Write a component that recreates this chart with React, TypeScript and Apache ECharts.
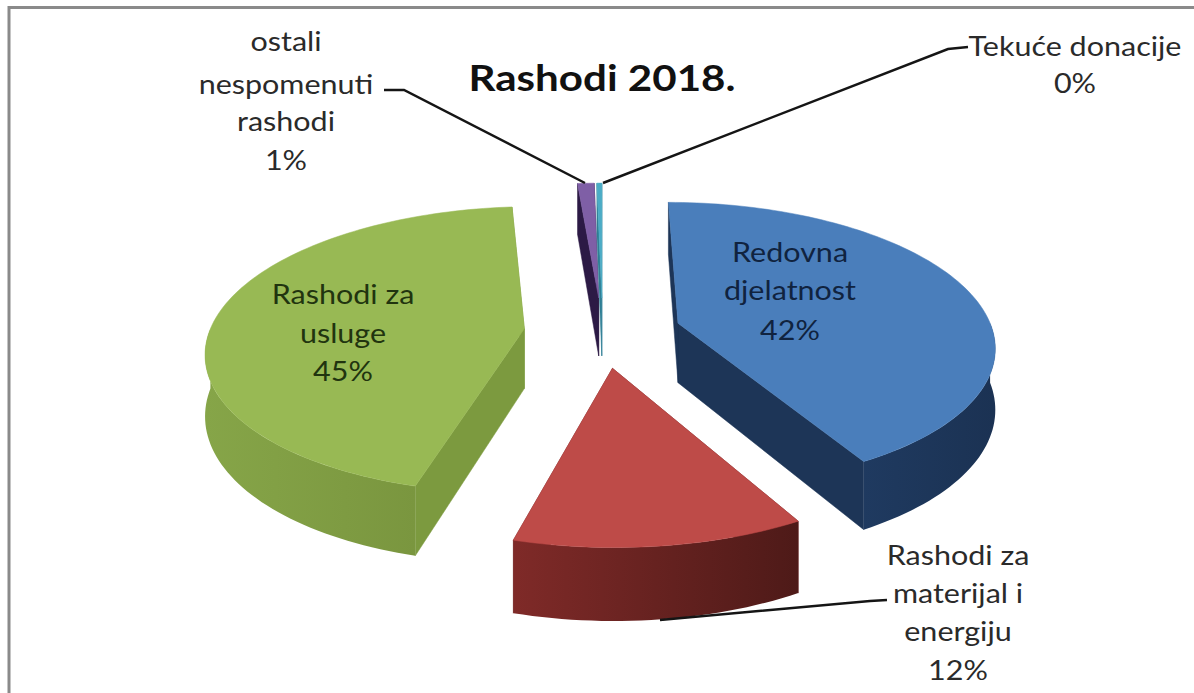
import React, { useEffect, useRef } from "react";
import * as echarts from "echarts";

const categories = ["Redovna djelatnost", "Rashodi za materijal i energiju", "Rashodi za usluge", "ostali nespomenuti rashodi", "Tekuće donacije"];
const values = [42, 12.4, 44.6, 1, 0.3];
const titleText = "Rashodi 2018.";

const topColors = ["#4a7ebb", "#be4b48", "#98b954", "#7f5fa6", "#4bacc6"];
const faceColors = ["#1d3557", "#6b2322", "#7c9a3f", "#2c1a45", "#2f7f95"];
const wallStops: string[][] = [
  ["#1f3a60", "#1b3253"],
  ["#7f2a28", "#4e1a18"],
  ["#86a548", "#7a963f"],
  ["#3c2560", "#3c2560"],
  ["#2f7f95", "#2f7f95"],
];

const CX = 602.5, CY = 332, A = 315, B = 141, K = 0.147, DEPTH = 60, EXPLODE = 0.25;
const TOTAL = values.reduce((s, v) => s + v, 0);
const rad = (d: number) => (d * Math.PI) / 180;

function project(X: number, Y: number, low: boolean): number[] {
  const d = 1 + K * Y;
  return [CX + (A * X) / d, CY - (B * Y) / d + (low ? DEPTH / d : 0)];
}

function renderItem(params: any, api: any) {
  const i = params.dataIndex;
  const before = values.slice(0, i).reduce((s, v) => s + v, 0);
  const t0 = (before / TOTAL) * 360;
  const t1 = t0 + (api.value(0) / TOTAL) * 360;
  const mid = rad((t0 + t1) / 2);
  const ox = EXPLODE * Math.sin(mid), oy = EXPLODE * Math.cos(mid);
  const rim = (t: number, low: boolean) => project(ox + Math.sin(rad(t)), oy + Math.cos(rad(t)), low);
  const arc = (a: number, b: number, low: boolean) => {
    const pts: number[][] = [];
    const n = Math.max(2, Math.ceil((b - a) / 1.5));
    for (let k = 0; k <= n; k++) pts.push(rim(a + ((b - a) * k) / n, low));
    return pts;
  };
  const apex = project(ox, oy, false);
  const apexLow = project(ox, oy, true);
  const poly = (points: number[][], fill: any) => ({
    type: "polygon",
    shape: { points },
    style: { fill, stroke: typeof fill === "string" ? fill : "none", lineWidth: 0.5 },
  });
  const children: any[] = [];
  children.push(poly([apex, rim(t1, false), rim(t1, true), apexLow], faceColors[i]));
  children.push(poly([apex, rim(t0, false), rim(t0, true), apexLow], faceColors[i]));
  const a = Math.max(t0, 90), b = Math.min(t1, 270);
  if (b > a) {
    const fill = new echarts.graphic.LinearGradient(0, 0, 1, 0, [
      { offset: 0, color: wallStops[i][0] },
      { offset: 1, color: wallStops[i][1] },
    ]);
    children.push(poly([...arc(a, b, false), ...arc(a, b, true).reverse()], fill));
  }
  children.push(poly([apex, ...arc(t0, t1, false)], topColors[i]));
  return { type: "group", children };
}

const labelFont = '"Lato", sans-serif';
const labels: { lines: string[]; x: number; ys: number[]; color: string }[] = [
  { lines: ["ostali", "nespomenuti", "rashodi", "1%"], x: 286, ys: [41, 84, 121, 160], color: "#2a2a2a" },
  { lines: ["Tekuće donacije", "0%"], x: 1075, ys: [46, 83], color: "#2a2a2a" },
  { lines: ["Rashodi za", "materijal i", "energiju", "12%"], x: 958, ys: [555, 593, 631, 670], color: "#2a2a2a" },
  { lines: ["Redovna", "djelatnost", "42%"], x: 790, ys: [252, 290, 330], color: "#10233f" },
  { lines: ["Rashodi za", "usluge", "45%"], x: 343, ys: [294, 333, 371], color: "#21340f" },
];
const leaders: number[][][] = [
  [[384, 90], [404, 90], [585, 183]],
  [[968, 47], [948, 49], [603, 183]],
  [[887, 600], [870, 601], [660, 620]],
];

export default function App() {
  const ref = useRef<HTMLDivElement>(null);
  useEffect(() => {
    document.body.style.margin = "0";
    const chart = echarts.init(ref.current!, undefined, { renderer: "svg" });
    const graphic: any[] = [
      {
        type: "polyline",
        shape: { points: [[9, 693], [9, 7.5], [1194, 7.5]] },
        style: { stroke: "#8a8a8a", lineWidth: 3, fill: "none" },
      },
    ];
    leaders.forEach((points) =>
      graphic.push({ type: "polyline", shape: { points }, style: { stroke: "#151515", lineWidth: 2.5, fill: "none" }, z: 20 })
    );
    labels.forEach((l) =>
      l.lines.forEach((text, k) =>
        graphic.push({
          type: "text",
          x: l.x,
          y: l.ys[k],
          scaleX: 1.13,
          z: 21,
          style: { text, fill: l.color, font: `27px ${labelFont}`, textAlign: "center", textVerticalAlign: "middle" },
        })
      )
    );
    graphic.push({
      type: "text",
      x: 602,
      y: 77,
      scaleX: 1.17,
      z: 21,
      style: { text: titleText, fill: "#111111", font: `bold 36px ${labelFont}`, textAlign: "center", textVerticalAlign: "middle" },
    });
    chart.setOption({
      animation: false,
      backgroundColor: "#ffffff",
      graphic: { elements: graphic },
      series: [
        {
          type: "custom",
          coordinateSystem: "none",
          silent: true,
          renderItem,
          data: values.map((v, i) => ({ name: categories[i], value: [v] })),
        },
      ],
    });
    return () => chart.dispose();
  }, []);
  return <div ref={ref} style={{ width: 1194, height: 693 }} />;
}
